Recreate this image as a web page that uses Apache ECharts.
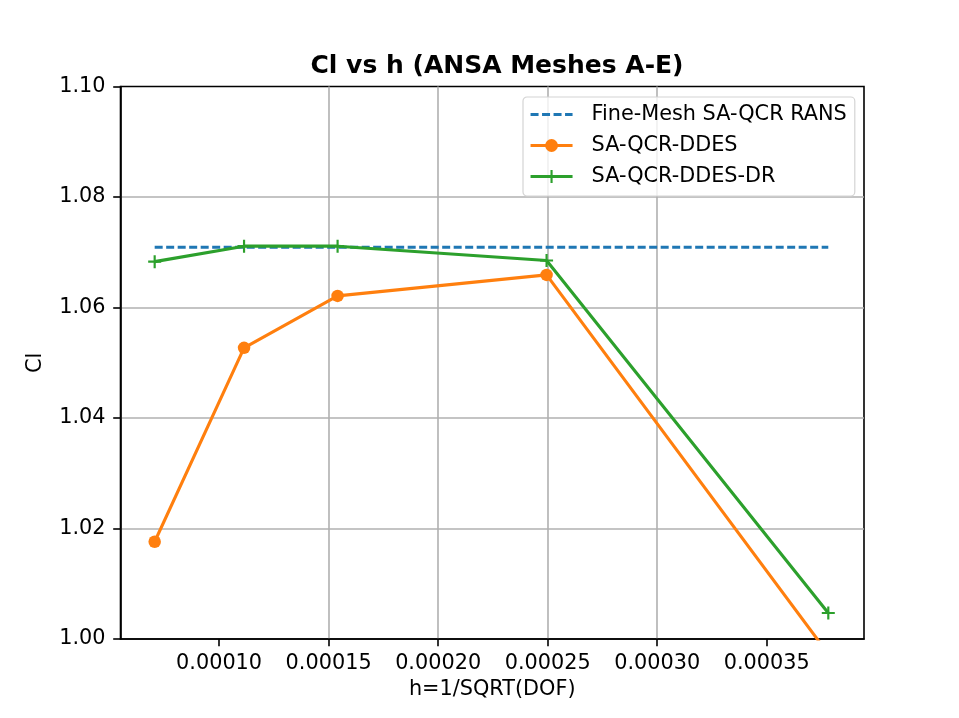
<!DOCTYPE html>
<html>
<head>
<meta charset="utf-8">
<script src="https://cdn.jsdelivr.net/npm/echarts@6/dist/echarts.min.js"></script>
<style>
    html, body { margin: 0; padding: 0; background: #fff; }
    #chart { width: 959px; height: 718px; }
</style>
</head>
<body>
<div id="chart"></div>
<script>
// h = 1/sqrt(DOF) for meshes A-E
const hValues = [0.0000706, 0.0001114, 0.0001541, 0.0002495, 0.0003781];
const ransCl = [1.0709, 1.0709, 1.0709, 1.0709, 1.0709];
const ddesCl = [1.0176, 1.0527, 1.0621, 1.0659, 0.9973];
const ddesDrCl = [1.0683, 1.0711, 1.0711, 1.0685, 1.0047];
const xTicks = [0.00010, 0.00015, 0.00020, 0.00025, 0.00030, 0.00035];

const FONT = 'DejaVu Sans';
const PLUS = 'path://M-1,-6 L1,-6 L1,-1 L6,-1 L6,1 L1,1 L1,6 L-1,6 L-1,1 L-6,1 L-6,-1 L-1,-1 Z';

const pairs = (ys) => hValues.map((h, i) => [h, ys[i]]);

const chart = echarts.init(document.getElementById('chart'));

chart.setOption({
    animation: false,
    backgroundColor: '#ffffff',
    textStyle: { fontFamily: FONT },
    title: {
        text: 'Cl vs h (ANSA Meshes A-E)',
        left: 492,
        textAlign: 'center',
        top: 49,
        textStyle: { fontFamily: FONT, fontSize: 25, fontWeight: 'bold', color: '#000' }
    },
    legend: {
        orient: 'vertical',
        left: 523,
        top: 97,
        padding: [7, 8, 9, 6],
        itemWidth: 42,
        itemHeight: 16,
        itemGap: 10,
        backgroundColor: 'rgba(255,255,255,0.8)',
        borderColor: '#d4d4d4',
        borderWidth: 1.2,
        borderRadius: 4,
        lineStyle: { width: 3.1 },
        textStyle: { fontFamily: FONT, fontSize: 20.8, color: '#000', lineHeight: 21, padding: [0, 0, 0, 14] },
        data: [
            { name: 'Fine-Mesh SA-QCR RANS', itemStyle: { opacity: 0 } },
            'SA-QCR-DDES',
            'SA-QCR-DDES-DR'
        ]
    },
    grid: {
        left: 120.5,
        right: 95,
        top: 86.5,
        bottom: 79,
        show: true,
        borderColor: '#000',
        borderWidth: 1.6,
        containLabel: false
    },
    xAxis: {
        type: 'value',
        min: 0.0000550,
        max: 0.0003944,
        name: 'h=1/SQRT(DOF)',
        nameLocation: 'middle',
        nameGap: 40,
        nameTextStyle: { fontFamily: FONT, fontSize: 20.8, color: '#000' },
        axisLine: { show: true, lineStyle: { color: '#000', width: 1.6 } },
        axisTick: { show: true, inside: false, length: 7.3, customValues: xTicks, lineStyle: { color: '#000', width: 1.6 } },
        axisLabel: {
            customValues: xTicks,
            margin: 14,
            fontFamily: FONT, fontSize: 20.8, color: '#000',
            formatter: (v) => v.toFixed(5)
        },
        splitLine: { show: true, showMinLine: false, showMaxLine: false, lineStyle: { color: '#b0b0b0', width: 1.6 } }
    },
    yAxis: {
        type: 'value',
        min: 1.00,
        max: 1.10,
        interval: 0.02,
        name: 'Cl',
        nameLocation: 'middle',
        nameGap: 74,
        nameTextStyle: { fontFamily: FONT, fontSize: 20.8, color: '#000' },
        axisLine: { show: true, lineStyle: { color: '#000', width: 1.6 } },
        axisTick: { show: true, inside: false, length: 7.3, lineStyle: { color: '#000', width: 1.6 } },
        axisLabel: {
            margin: 15,
            fontFamily: FONT, fontSize: 20.8, color: '#000',
            formatter: (v) => v.toFixed(2)
        },
        splitLine: { show: true, showMinLine: false, showMaxLine: false, lineStyle: { color: '#b0b0b0', width: 1.6 } }
    },
    series: [
        {
            name: 'Fine-Mesh SA-QCR RANS',
            type: 'line',
            data: pairs(ransCl),
            symbol: 'none',
            lineStyle: { color: '#1f77b4', width: 3.1, type: [8, 3.5] },
            itemStyle: { color: '#1f77b4' },
            z: 2
        },
        {
            name: 'SA-QCR-DDES',
            type: 'line',
            data: pairs(ddesCl),
            symbol: 'circle',
            symbolSize: 12.5,
            clip: true,
            lineStyle: { color: '#ff7f0e', width: 3.1 },
            itemStyle: { color: '#ff7f0e', borderWidth: 0 },
            z: 3
        },
        {
            name: 'SA-QCR-DDES-DR',
            type: 'line',
            data: pairs(ddesDrCl),
            symbol: PLUS,
            symbolSize: 13,
            clip: true,
            lineStyle: { color: '#2ca02c', width: 3.1 },
            itemStyle: { color: '#2ca02c', borderWidth: 0 },
            z: 4
        }
    ]
});
</script>
</body>
</html>
